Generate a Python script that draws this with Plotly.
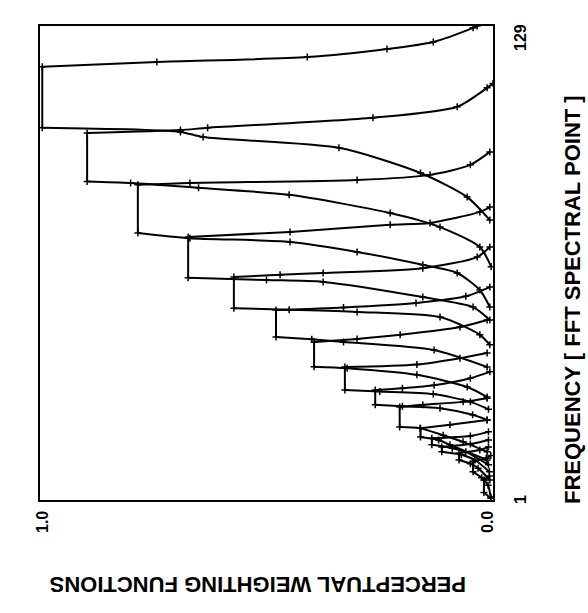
import plotly.graph_objects as go

# ---- data (value axis = weighting, freq axis = FFT point) ----
peak = [0.995, 0.896, 0.784, 0.673, 0.572, 0.479, 0.395, 0.327, 0.260, 0.206,
        0.160, 0.135, 0.113, 0.075, 0.044, 0.020]
band_lo = [101.5, 87.0, 73.1, 61.0, 52.8, 45.0, 37.0, 30.7, 26.7, 20.7,
           18.0, 15.9, 14.0, 11.8, 8.6, 3.0]
band_hi = [118.0, 100.1, 86.1, 72.0, 61.2, 52.3, 43.7, 36.9, 30.7, 26.1,
           20.4, 17.7, 15.3, 13.7, 11.3, 6.4]

upper_f = [
    [119.3, 120.6, 122.8, 124.7, 128.5, 129.0],
    [100.9, 101.5, 104.2, 107.2, 112.3, 113.5],
    [86.6, 87.4, 88.8, 91.5, 95.0],
    [73.4, 75.3, 75.8, 78.8, 80.1],
    [61.8, 62.3, 63.6, 66.6, 69.3],
    [53.0, 54.2, 56.0, 58.5],
    [44.5, 45.6, 47.7, 49.6],
    [37.6, 39.3, 40.7],
    [31.2, 32.0, 33.9, 35.6],
    [26.7, 27.5, 28.5],
    [21.3, 22.6],
    [18.3, 19.4],
    [16.1, 17.2],
    [14.5, 15.3],
    [12.3, 13.0],
    [7.5],
]
upper_v = [
    [0.742, 0.410, 0.234, 0.132, 0.044, 0.035],
    [0.690, 0.630, 0.265, 0.079, 0.013, 0.000],
    [0.669, 0.300, 0.139, 0.050, 0.007],
    [0.448, 0.227, 0.139, 0.029, 0.007],
    [0.470, 0.375, 0.155, 0.035, 0.007],
    [0.330, 0.170, 0.060, 0.007],
    [0.300, 0.205, 0.073, 0.013],
    [0.168, 0.073, 0.013],
    [0.200, 0.130, 0.050, 0.007],
    [0.155, 0.066, 0.013],
    [0.095, 0.013],
    [0.050, 0.010],
    [0.050, 0.010],
    [0.029, 0.010],
    [0.015, 0.005],
    [0.008],
]
lower_f = [
    [100.4, 99.0, 96.1, 89.3, 82.8, 76.6],
    [86.6, 85.3, 83.4, 78.5, 74.7, 69.3, 64.0],
    [71.7, 70.7, 68.0, 64.5, 62.3, 57.7, 53.1],
    [60.4, 59.9, 55.8, 53.1, 49.6],
    [52.4, 51.8, 50.4, 45.6, 42.9],
    [44.4, 43.7, 41.5, 36.9],
    [36.6, 34.8, 31.5, 28.8],
    [30.3, 29.6, 27.5, 25.5],
    [26.3, 25.8, 24.0, 22.6],
    [20.4, 18.5, 16.7, 14.0],
    [17.2, 15.9, 11.8],
    [15.0, 14.0, 10.5],
    [13.2, 11.8, 8.6],
    [10.8, 9.6, 6.4],
    [7.0, 5.0, 1.8],
    [1.5],
]
lower_v = [
    [0.690, 0.640, 0.340, 0.160, 0.057, 0.007],
    [0.800, 0.650, 0.450, 0.227, 0.117, 0.029, 0.004],
    [0.669, 0.448, 0.300, 0.155, 0.079, 0.029, 0.007],
    [0.500, 0.375, 0.155, 0.044, 0.007],
    [0.450, 0.300, 0.117, 0.029, 0.007],
    [0.400, 0.330, 0.130, 0.013],
    [0.322, 0.168, 0.057, 0.013],
    [0.250, 0.132, 0.050, 0.010],
    [0.200, 0.117, 0.045, 0.013],
    [0.161, 0.110, 0.066, 0.013],
    [0.120, 0.095, 0.013],
    [0.090, 0.060, 0.010],
    [0.070, 0.040, 0.008],
    [0.050, 0.033, 0.007],
    [0.025, 0.011, 0.005],
    [0.005],
]

value_ticks = ["1.0", "0.0"]
freq_ticks = ["1", "129"]
value_title = "PERCEPTUAL WEIGHTING FUNCTIONS"
freq_title = "FREQUENCY [ FFT SPECTRAL POINT ]"

fig = go.Figure()
line = dict(color="black", width=2)
mk = dict(symbol="cross-thin", size=5, line=dict(color="black", width=1.5), color="black")
for k in range(len(peak)):
    # flat pass band
    fig.add_trace(go.Scatter(x=[peak[k], peak[k]], y=[band_lo[k], band_hi[k]], mode="lines",
                             line=line, showlegend=False, hoverinfo="skip"))
    # upper skirt
    fig.add_trace(go.Scatter(x=[peak[k]] + upper_v[k], y=[band_hi[k]] + upper_f[k],
                             mode="lines+markers", line=dict(shape="spline", smoothing=0.7, **line),
                             marker=mk, showlegend=False, hoverinfo="skip"))
    # lower skirt
    fig.add_trace(go.Scatter(x=[peak[k]] + lower_v[k], y=[band_lo[k]] + lower_f[k],
                             mode="lines+markers", line=dict(shape="spline", smoothing=0.7, **line),
                             marker=mk, showlegend=False, hoverinfo="skip"))

W, H = 588, 613
L, R, T, B = 40, 493, 26, 500


def px(x):
    return (x - L) / (R - L)


def py(y):
    return (B - y) / (B - T)


font = dict(family="Liberation Sans, Arial, sans-serif", color="black")
ann = []
ann.append(dict(text="<b>%s</b>" % value_ticks[0], x=px(42), y=py(522), textangle=-90,
                font=dict(size=16, **font)))
ann.append(dict(text="<b>%s</b>" % value_ticks[1], x=px(487), y=py(522), textangle=-90,
                font=dict(size=16, **font)))
ann.append(dict(text="<b>%s</b>" % freq_ticks[0], x=px(520), y=py(500), textangle=-90,
                font=dict(size=16, **font)))
ann.append(dict(text="<b>%s</b>" % freq_ticks[1], x=px(520), y=py(38), textangle=-90,
                font=dict(size=16, **font)))
ann.append(dict(text="<b>%s</b>" % freq_title, x=px(572), y=py(300), textangle=-90,
                font=dict(size=22, **font)))
ann.append(dict(text="<b>%s</b>" % value_title, x=px(258), y=py(585), textangle=180,
                font=dict(size=22, **font)))
for a in ann:
    a.update(xref="paper", yref="paper", showarrow=False, xanchor="center", yanchor="middle")

fig.update_layout(
    width=W, height=H,
    margin=dict(l=L, r=W - R, t=T, b=H - B, pad=0),
    paper_bgcolor="white", plot_bgcolor="white",
    annotations=ann,
    xaxis=dict(range=[1.0, 0.0], showgrid=False, zeroline=False, showticklabels=False,
               ticks="", showline=True, linecolor="black", linewidth=2, mirror=True),
    yaxis=dict(range=[1, 129], showgrid=False, zeroline=False, showticklabels=False,
               ticks="", showline=True, linecolor="black", linewidth=2, mirror=True),
)
fig.write_html("out.html")
